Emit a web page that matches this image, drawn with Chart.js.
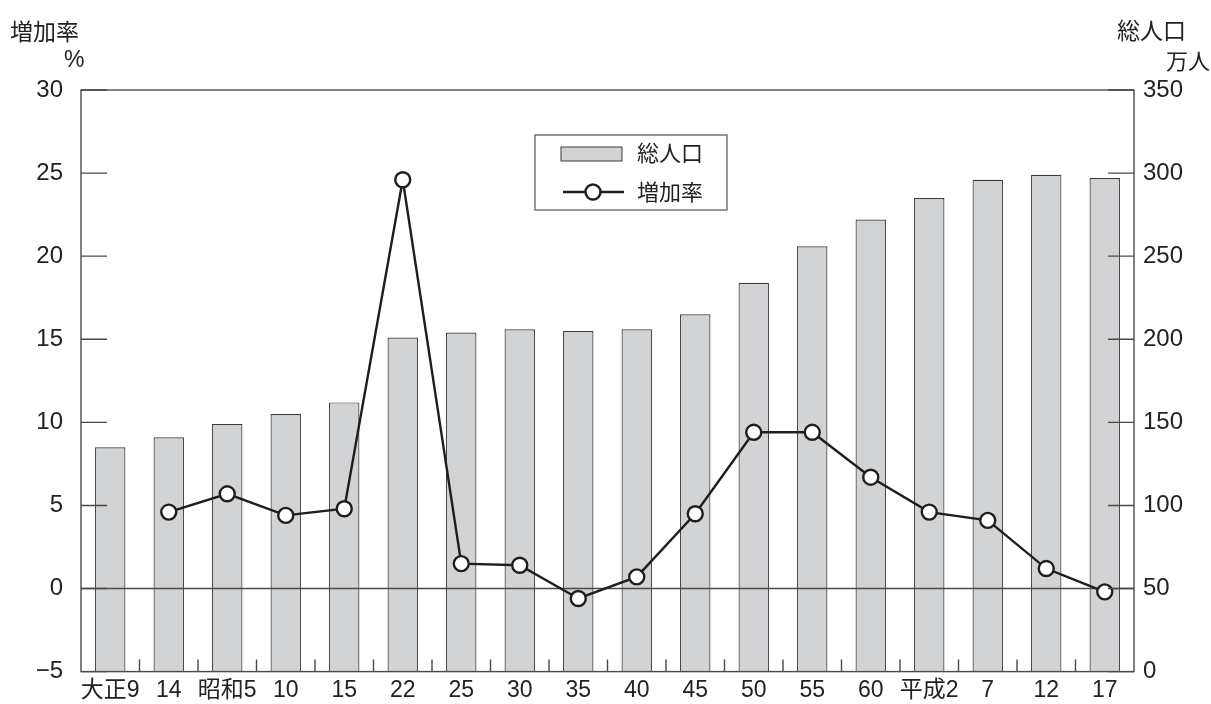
<!DOCTYPE html>
<html>
<head>
<meta charset="utf-8">
<script src="https://cdn.jsdelivr.net/npm/chart.js@4/dist/chart.umd.min.js"></script>
<style>
  html, body { margin: 0; padding: 0; background: #fff; overflow: hidden; }
  #wrap { width: 1211px; height: 704px; overflow: hidden; }
  canvas { display: block; }
</style>
</head>
<body>
<div id="wrap"><canvas id="chart" width="1211" height="704"></canvas></div>
<script>
const categories = ['大正9', '14', '昭和5', '10', '15', '22', '25', '30', '35', '40', '45', '50', '55', '60', '平成2', '7', '12', '17'];
const population = [135, 141, 149, 155, 162, 201, 204, 206, 205, 206, 215, 234, 256, 272, 285, 296, 299, 297];
const growthRate = [null, 4.6, 5.7, 4.4, 4.8, 24.6, 1.5, 1.4, -0.6, 0.7, 4.5, 9.4, 9.4, 6.7, 4.6, 4.1, 1.2, -0.2];
const rateTicks = [-5, 0, 5, 10, 15, 20, 25, 30];
const popTicks = [0, 50, 100, 150, 200, 250, 300, 350];

const LATIN = "'Liberation Sans', 'Noto Sans CJK JP', sans-serif";
const CJK = "'Noto Sans CJK JP', sans-serif";
const INK = '#222';
const FRAME = '#4a4a4a';

function setTicks(values) {
    return function(scale) {
        scale.ticks = values.map(v => ({ value: v }));
    };
}

const framePlugin = {
    id: 'frame',
    beforeDatasetDraw(chart, args) {
        // zero line sits above the bars but under the line
        if (args.meta.type !== 'line') return;
        const { ctx, chartArea } = chart;
        const y0 = chart.scales.rate.getPixelForValue(0);
        ctx.save();
        ctx.strokeStyle = FRAME;
        ctx.lineWidth = 1.3;
        ctx.beginPath();
        ctx.moveTo(chartArea.left, y0);
        ctx.lineTo(chartArea.right, y0);
        ctx.stroke();
        ctx.restore();
    },
    afterDraw(chart) {
        const { ctx, chartArea } = chart;
        const { left, right, top, bottom } = chartArea;
        const rate = chart.scales.rate;
        const pop = chart.scales.pop;
        const x = chart.scales.x;
        ctx.save();
        ctx.strokeStyle = FRAME;
        ctx.lineWidth = 1.4;
        ctx.strokeRect(left, top, right - left, bottom - top);

        // inward ticks on both value axes
        ctx.beginPath();
        rateTicks.forEach(v => {
            const y = rate.getPixelForValue(v);
            ctx.moveTo(left, y);
            ctx.lineTo(left + 26, y);
        });
        popTicks.forEach(v => {
            const y = pop.getPixelForValue(v);
            ctx.moveTo(right, y);
            ctx.lineTo(right - 26, y);
        });
        // small ticks between categories
        for (let i = 1; i < categories.length; i++) {
            const bx = (x.getPixelForValue(i - 1) + x.getPixelForValue(i)) / 2;
            ctx.moveTo(bx, bottom);
            ctx.lineTo(bx, bottom - 12);
        }
        ctx.stroke();

        // axis titles
        ctx.fillStyle = INK;
        ctx.textBaseline = 'middle';
        ctx.textAlign = 'left';
        ctx.font = '23px ' + CJK;
        ctx.fillText('増加率', 10, 31);
        ctx.fillText('総人口', 1117, 30);
        ctx.font = '22px ' + CJK;
        ctx.fillText('万人', 1166, 61);
        ctx.font = '23px ' + LATIN;
        ctx.fillText('%', 64, 61);

        // legend box
        const barDs = chart.data.datasets[1];
        const lineDs = chart.data.datasets[0];
        ctx.lineWidth = 1.2;
        ctx.strokeStyle = '#555';
        ctx.fillStyle = '#fff';
        ctx.fillRect(535, 135, 192, 75);
        ctx.strokeRect(535, 135, 192, 75);

        ctx.fillStyle = barDs.backgroundColor;
        ctx.fillRect(561, 147, 61, 14);
        ctx.strokeStyle = barDs.borderColor;
        ctx.lineWidth = 1;
        ctx.strokeRect(561, 147, 61, 14);

        ctx.strokeStyle = lineDs.borderColor;
        ctx.lineWidth = lineDs.borderWidth;
        ctx.beginPath();
        ctx.moveTo(563, 192);
        ctx.lineTo(624, 192);
        ctx.stroke();
        ctx.beginPath();
        ctx.arc(593, 192, lineDs.pointRadius, 0, Math.PI * 2);
        ctx.fillStyle = lineDs.pointBackgroundColor;
        ctx.fill();
        ctx.lineWidth = lineDs.pointBorderWidth;
        ctx.stroke();

        ctx.fillStyle = INK;
        ctx.font = '22px ' + CJK;
        ctx.fillText('総人口', 637, 153);
        ctx.fillText('増加率', 637, 192);
        ctx.restore();
    }
};

const ctx = document.getElementById('chart').getContext('2d');
new Chart(ctx, {
    type: 'bar',
    data: {
        labels: categories,
        datasets: [
            {
                type: 'line',
                label: '増加率',
                data: growthRate,
                yAxisID: 'rate',
                order: 0,
                borderColor: '#1e1e1e',
                borderWidth: 2.4,
                pointRadius: 7.5,
                pointBackgroundColor: '#fff',
                pointBorderColor: '#1e1e1e',
                pointBorderWidth: 2.4,
                tension: 0
            },
            {
                type: 'bar',
                label: '総人口',
                data: population,
                yAxisID: 'pop',
                order: 1,
                backgroundColor: '#d2d3d5',
                borderColor: '#3a3a3a',
                borderWidth: 1.2,
                barPercentage: 0.52,
                categoryPercentage: 1
            }
        ]
    },
    options: {
        responsive: false,
        animation: false,
        layout: { padding: { top: 90, left: 0, right: 0, bottom: 0 } },
        plugins: {
            legend: { display: false },
            tooltip: { enabled: false }
        },
        scales: {
            x: {
                grid: { display: false, drawTicks: false },
                border: { display: false },
                ticks: {
                    color: INK,
                    font: { family: LATIN, size: 23 },
                    padding: 5,
                    maxRotation: 0,
                    autoSkip: false
                },
                afterFit(scale) { scale.height = 29; }
            },
            rate: {
                position: 'left',
                min: -5,
                max: 30,
                afterBuildTicks: setTicks(rateTicks),
                grid: { display: false, drawTicks: false },
                border: { display: false },
                ticks: {
                    color: INK,
                    font: { family: LATIN, size: 24 },
                    padding: 18,
                    callback: v => v < 0 ? '\u2212' + Math.abs(v) : String(v)
                },
                afterFit(scale) { scale.width = 81; }
            },
            pop: {
                position: 'right',
                min: 0,
                max: 350,
                afterBuildTicks: setTicks(popTicks),
                grid: { display: false, drawTicks: false },
                border: { display: false },
                ticks: {
                    color: INK,
                    font: { family: LATIN, size: 24 },
                    padding: 9
                },
                afterFit(scale) { scale.width = 77; }
            }
        }
    },
    plugins: [framePlugin]
});
</script>
</body>
</html>
